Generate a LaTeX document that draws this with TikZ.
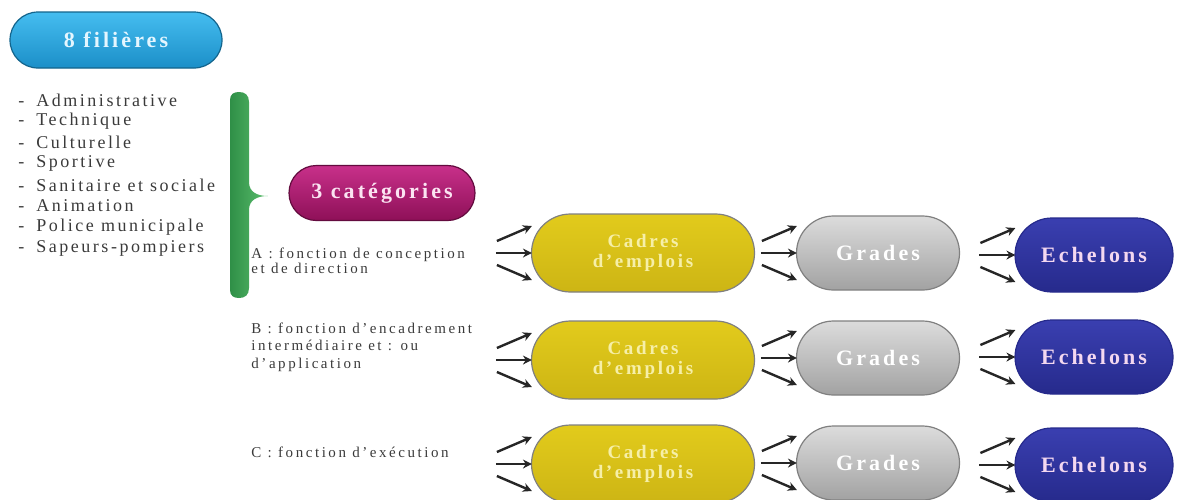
\documentclass[tikz,border=0pt]{standalone}
\usepackage{fontspec}
\setmainfont{Liberation Serif}
\newfontfamily\spc[LetterSpace=14]{Liberation Serif}
\newfontfamily\spcs[LetterSpace=17]{Liberation Serif}
\usetikzlibrary{shapes.misc,arrows.meta,calc}
\definecolor{cyT}{HTML}{45BDF0}
\definecolor{cyB}{HTML}{1B8FC8}
\definecolor{mgT}{HTML}{C8308A}
\definecolor{mgB}{HTML}{8E1058}
\definecolor{ylT}{HTML}{E2CB1C}
\definecolor{ylM}{HTML}{F3E34A}
\definecolor{ylB}{HTML}{CDB514}
\definecolor{grT}{HTML}{DCDCDC}
\definecolor{grB}{HTML}{A2A2A2}
\definecolor{blT}{HTML}{3A3FB0}
\definecolor{blB}{HTML}{262A8C}
\definecolor{gnL}{HTML}{2F8F47}
\definecolor{gnR}{HTML}{5CBF6E}
\definecolor{txt}{HTML}{3A3A3A}
\definecolor{ylText}{HTML}{F6EFA8}
\definecolor{blText}{HTML}{F4D8F0}
\definecolor{cyText}{HTML}{E4F6FF}
\definecolor{mgText}{HTML}{FBE4F2}
\newcommand\inarrows[1]{%
  \draw[arr] ($(#1.west)+(-34,-12)$) -- ($(#1.west)+(1,-27)$);
  \draw[arr] ($(#1.west)+(-35,0)$) -- ($(#1.west)+(1,0)$);
  \draw[arr] ($(#1.west)+(-34,12)$) -- ($(#1.west)+(1,27)$);}
\begin{document}
\begin{tikzpicture}[x=0.5pt,y=-0.5pt,
  pill/.style={rounded rectangle, draw=black!50, line width=0.6pt, inner sep=0pt, align=center,
    font=\spc\bfseries\fontsize{11}{12}\selectfont},
  ypill/.style={pill, minimum width=111.5pt, minimum height=39pt, top color=ylT, middle color=ylM, bottom color=ylB,
    text=ylText, font=\spc\bfseries\fontsize{9.5}{10}\selectfont},
  gpill/.style={pill, minimum width=81.5pt, minimum height=37pt, top color=grT, bottom color=grB, text=white},
  bpill/.style={pill, minimum width=79pt, minimum height=37pt, top color=blT, bottom color=blB, text=blText, draw=blB},
  item/.style={anchor=west, inner sep=0pt, text=txt, font=\spc\fontsize{9}{10}\selectfont},
  cattext/.style={anchor=west, inner sep=0pt, text=txt, align=left, font=\spcs\fontsize{7.5}{8}\selectfont},
  arr/.style={line width=1.2pt, draw=black!85, -{Stealth[length=4.5pt,width=4.5pt]}}]
\useasboundingbox (0,0) rectangle (1181,499);
\clip (0,0) rectangle (1181,499);

% top pill
\node[pill, minimum width=106pt, minimum height=28pt, top color=cyT, bottom color=cyB, text=cyText, draw=cyB!70!black] (fil) at (116,40) {8 filières};

% list
\node[item] (l1) at (18,100) {-\hspace{6pt}Administrative};
\node[item] (l2) at (18,121) {-\hspace{6pt}Technique};
\node[item] (l3) at (18,142) {-\hspace{6pt}Culturelle};
\node[item] (l4) at (18,163) {-\hspace{6pt}Sportive};
\node[item] (l5) at (18,185) {-\hspace{6pt}Sanitaire et sociale};
\node[item] (l6) at (18,206) {-\hspace{6pt}Animation};
\node[item] (l7) at (18,227) {-\hspace{6pt}Police municipale};
\node[item] (l8) at (18,248) {-\hspace{6pt}Sapeurs-pompiers};

% green brace
\path[left color=gnL, right color=gnR]
  (230,100) .. controls (230,94) and (234,92) .. (239,92)
  .. controls (245,92) and (249,95) .. (249,102)
  -- (249,182) .. controls (249,192) and (257,196) .. (268,196)
  .. controls (257,196) and (249,200) .. (249,210)
  -- (249,288) .. controls (249,295) and (245,298) .. (239,298)
  .. controls (234,298) and (230,296) .. (230,290) -- cycle;

% categories pill
\node[pill, minimum width=93pt, minimum height=27.5pt, top color=mgT, bottom color=mgB, text=mgText, draw=mgB!70!black] (cat) at (382,193) {3 catégories};

% category texts
\node[cattext] (ta) at (251,261) {A : fonction de conception\\[-0.5pt]et de direction};
\node[cattext, font=\spcs\fontsize{7.5}{8.8}\selectfont] (tb) at (251,347) {B : fonction d’encadrement\\intermédiaire et : ou\\d’application};
\node[cattext] (tc) at (251,452) {C : fonction d’exécution};

% rows
\node[ypill] (y1) at (643,253) {Cadres\\d’emplois};
\node[gpill] (g1) at (878,253) {Grades};
\node[bpill] (b1) at (1094,255) {Echelons};

\node[ypill] (y2) at (643,360) {Cadres\\d’emplois};
\node[gpill] (g2) at (878,358) {Grades};
\node[bpill] (b2) at (1094,357) {Echelons};

\node[ypill] (y3) at (643,464) {Cadres\\d’emplois};
\node[gpill] (g3) at (878,463) {Grades};
\node[bpill] (b3) at (1094,465) {Echelons};

\inarrows{y1}\inarrows{g1}\inarrows{b1}
\inarrows{y2}\inarrows{g2}\inarrows{b2}
\inarrows{y3}\inarrows{g3}\inarrows{b3}
\end{tikzpicture}
\end{document}
